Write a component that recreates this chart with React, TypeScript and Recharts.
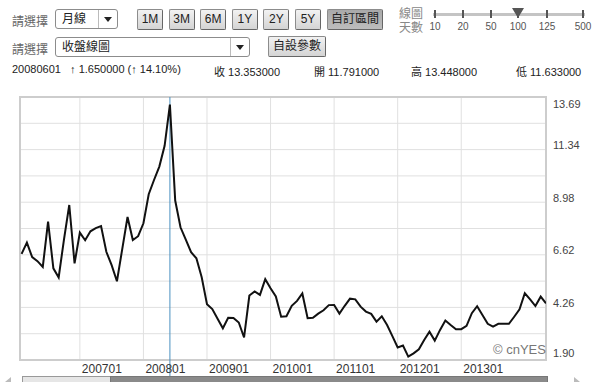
import {CartesianGrid, Line, LineChart, ReferenceArea, ReferenceLine, XAxis, YAxis} from 'recharts';

// 月線 收盤價 2006/02 ~ 2014/05
const START_YEAR = 2006;
const START_MONTH = 2;
const closes = [
  6.66, 7.16, 6.51, 6.33, 6.07, 8.1, 6.01, 5.6, 7.3, 8.85, 6.23,
  7.61, 7.27, 7.67, 7.81, 7.9, 6.75, 6.15, 5.43, 6.87, 8.31, 7.28, 7.45,
  8.03, 9.33, 9.97, 10.57, 11.5, 13.353, 9.05, 7.85, 7.3, 6.73, 6.46, 5.61,
  4.4, 4.18, 3.75, 3.32, 3.79, 3.78, 3.58, 2.91, 4.79, 4.97, 4.82, 5.52,
  5.12, 4.75, 3.84, 3.86, 4.33, 4.55, 4.88, 3.77, 3.79, 3.98, 4.13, 4.36,
  4.37, 3.98, 4.33, 4.65, 4.62, 4.29, 4.07, 3.97, 3.62, 3.86, 3.47, 2.97,
  2.46, 2.55, 2.05, 2.2, 2.38, 2.8, 3.17, 2.77, 3.25, 3.67, 3.47, 3.28,
  3.28, 3.43, 4.0, 4.31, 3.92, 3.52, 3.4, 3.52, 3.52, 3.52, 3.84, 4.17,
  4.89, 4.62, 4.32, 4.74, 4.44,
];
const xTickLabels = ['200701', '200801', '200901', '201001', '201101', '201201', '201301'];
const yTickValues = [13.69, 11.34, 8.98, 6.62, 4.26, 1.9];
const selectedMonth = '200806';
const rangeButtons = ['1M', '3M', '6M', '1Y', '2Y', '5Y'];
const dayScale = ['10', '20', '50', '100', '125', '500'];

const months = closes.map((_, k) => {
  const m = START_MONTH - 1 + k;
  return `${START_YEAR + Math.floor(m / 12)}${String((m % 12) + 1).padStart(2, '0')}`;
});
const data = closes.map((close, i) => ({i, month: months[i], close}));

const FONT = '"Liberation Sans", Arial, "Noto Sans CJK TC", sans-serif';

const XTick = ({x, y, payload}: any) => (
  <text x={x + 2} y={y + 13} fontSize={12} fill="#333" fontFamily={FONT}>
    {months[payload.value]}
  </text>
);

const YTick = ({x, y, payload}: any) => {
  const cy = Math.min(Math.max(y - 4.5, 104), 353);
  return (
    <text x={x + 7} y={cy} dominantBaseline="central" fontSize={11} fill="#444" fontFamily={FONT}>
      {Number(payload.value).toFixed(2)}
    </text>
  );
};

const abs = (left: number, top: number, extra: any = {}) => ({position: 'absolute' as const, left, top, ...extra});

function Button({left, width, label, pressed, top = 9}: any) {
  return (
    <div
      style={abs(left, top, {
        width,
        height: 21,
        boxSizing: 'border-box',
        border: '1px solid #8c8c8c',
        borderRightColor: '#666',
        borderBottomColor: '#666',
        borderRadius: 2,
        background: pressed ? 'linear-gradient(#a9a9a9, #bdbdbd)' : 'linear-gradient(#f2f2f2, #d4d4d4)',
        fontSize: 12,
        lineHeight: '19px',
        textAlign: 'center',
        color: '#222',
      })}
    >
      {label}
    </div>
  );
}

function Select({left, top, width, label, split}: any) {
  return (
    <div
      style={abs(left, top, {
        width,
        height: 20,
        boxSizing: 'border-box',
        border: '1px solid #8c8c8c',
        borderRadius: 3,
        background: '#fff',
        fontSize: 12,
        lineHeight: '18px',
        color: '#222',
      })}
    >
      <span style={{position: 'absolute', left: 6}}>{label}</span>
      <div style={{position: 'absolute', left: split, top: 0, bottom: 0, width: 1, background: '#bbb'}} />
      <div
        style={{
          position: 'absolute',
          left: split + (width - split) / 2 - 5,
          top: 7,
          width: 0,
          height: 0,
          borderLeft: '4px solid transparent',
          borderRight: '4px solid transparent',
          borderTop: '5px solid #222',
        }}
      />
    </div>
  );
}

export default function App() {
  const sel = months.indexOf(selectedMonth);
  const scaleX = [435, 463, 491, 518, 547, 583];
  return (
    <div style={abs(0, 0, {width: 600, height: 382, overflow: 'hidden', background: '#fff', fontFamily: FONT})}>
      {/* 상단 조건 */}
      <div style={abs(12, 12, {fontSize: 12, color: '#666'})}>請選擇</div>
      <Select left={55} top={9} width={63} label="月線" split={42} />
      {rangeButtons.map((b, k) => (
        <Button key={b} left={137 + k * 31.6} width={26} label={b} />
      ))}
      <Button left={327} width={56} label="自訂區間" pressed />
      <div style={abs(399, 7, {fontSize: 12, lineHeight: '14px', color: '#888'})}>
        線圖
        <br />
        天數
      </div>
      <div style={abs(433, 13, {width: 152, height: 3, background: '#c4c4c4'})} />
      {dayScale.map((d, k) => (
        <div key={d}>
          <div style={abs(scaleX[k] - 1, 10, {width: 2, height: 8, background: '#555'})} />
          <div style={abs(scaleX[k] - 15, 21, {width: 30, textAlign: 'center', fontSize: 10, color: '#555'})}>{d}</div>
        </div>
      ))}
      <div
        style={abs(512, 8, {
          width: 0,
          height: 0,
          borderLeft: '6px solid transparent',
          borderRight: '6px solid transparent',
          borderTop: '10px solid #555',
        })}
      />

      <div style={abs(12, 40, {fontSize: 12, color: '#666'})}>請選擇</div>
      <Select left={55} top={37} width={195} label="收盤線圖" split={174} />
      <Button left={268} top={36} width={58} label="自設參數" />

      <div style={abs(12, 63, {fontSize: 11, color: '#222', whiteSpace: 'pre'})}>20080601   ↑ 1.650000 (↑ 14.10%)</div>
      <div style={abs(214, 63, {fontSize: 11, color: '#222'})}>收 13.353000</div>
      <div style={abs(314, 63, {fontSize: 11, color: '#222'})}>開 11.791000</div>
      <div style={abs(411, 63, {fontSize: 11, color: '#222'})}>高 13.448000</div>
      <div style={abs(516, 63, {fontSize: 11, color: '#222'})}>低 11.633000</div>

      <LineChart
        width={600}
        height={382}
        data={data}
        margin={{top: 97, right: 0, left: 20, bottom: 0}}
        style={{position: 'absolute', left: 0, top: 0}}
      >
        <CartesianGrid
          stroke="#e0e0e0"
          horizontalCoordinatesGenerator={({offset}: any) =>
            Array.from({length: 11}, (_, k) => offset.top + (k * offset.height) / 10)
          }
        />
        <ReferenceArea x1={-0.3} x2={99} y1={1.9} y2={13.69} fill="none" stroke="#cdcdcd" strokeWidth={2} />
        <XAxis
          type="number"
          dataKey="i"
          domain={[-0.3, 99]}
          ticks={xTickLabels.map((l) => months.indexOf(l))}
          tick={<XTick />}
          tickSize={0}
          tickMargin={0}
          axisLine={false}
          height={22}
          allowDataOverflow
        />
        <YAxis
          orientation="right"
          domain={[1.9, 13.69]}
          ticks={yTickValues}
          tick={<YTick />}
          tickSize={0}
          tickMargin={0}
          axisLine={false}
          width={54}
          allowDataOverflow
        />
        <ReferenceLine
          x={sel}
          stroke="#4a90c0"
          shape={(p: any) => (
            <line
              x1={p.x1}
              x2={p.x2}
              y1={Math.min(p.y1, p.y2)}
              y2={Math.max(p.y1, p.y2) + 16}
              stroke="#4a90c0"
              strokeWidth={1}
            />
          )}
        />
        <Line type="linear" dataKey="close" stroke="#111" strokeWidth={2} dot={false} isAnimationActive={false} />
      </LineChart>

      <div style={abs(493, 342, {width: 52, textAlign: 'right', fontSize: 13, color: '#777', whiteSpace: 'nowrap'})}>
        © cnYES
      </div>

      {/* 하단 스크롤바 */}
      <div style={abs(22, 376, {width: 88, height: 8, background: '#e6e6e6', border: '1px solid #999'})} />
      <div style={abs(110, 376, {width: 436, height: 8, background: '#8a8a8a', border: '1px solid #777'})} />
      <div
        style={abs(5, 377, {
          width: 0,
          height: 0,
          borderTop: '5px solid transparent',
          borderBottom: '5px solid transparent',
          borderRight: '6px solid #bbb',
        })}
      />
      <div
        style={abs(574, 377, {
          width: 0,
          height: 0,
          borderTop: '5px solid transparent',
          borderBottom: '5px solid transparent',
          borderLeft: '6px solid #bbb',
        })}
      />
    </div>
  );
}
